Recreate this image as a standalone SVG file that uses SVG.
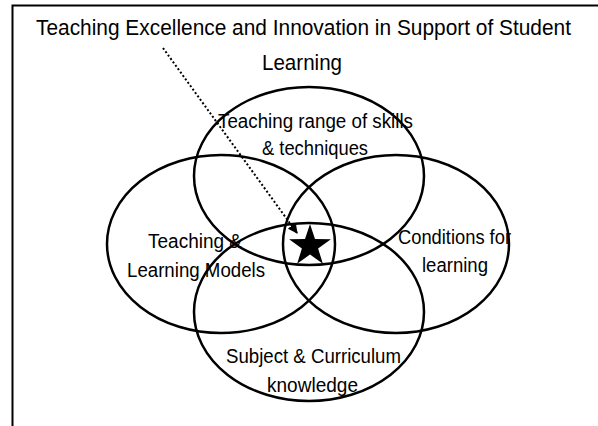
<svg xmlns="http://www.w3.org/2000/svg" width="598" height="426" viewBox="0 0 598 426">
  <style>
    .frame { fill: none; stroke: #000; stroke-width: 2; }
    .set { fill: none; stroke: #000; stroke-width: 2.5; }
    .label { font-family: "Liberation Sans", Arial, sans-serif; font-size: 20px; fill: #000; }
    .title { font-family: "Liberation Sans", Arial, sans-serif; font-size: 20.8px; fill: #000; }
    .pointer { fill: none; stroke: #000; stroke-width: 2; stroke-dasharray: 2 2.2; }
  </style>
  <defs>
    <marker id="head" viewBox="0 0 10 10" refX="9" refY="5" markerWidth="5" markerHeight="5" orient="auto" markerUnits="strokeWidth">
      <path d="M0,0 L10,5 L0,10 Z" fill="#000"/>
    </marker>
  </defs>

  <rect width="598" height="426" fill="#fff"/>

  <!-- open frame: top and left edges only -->
  <path class="frame" d="M12.5,426 V5.5 H598"/>

  <!-- title set in a slightly tall, narrow face -->
  <g id="title">
    <text class="title" transform="translate(36,35) scale(1,1.1)" textLength="535" lengthAdjust="spacingAndGlyphs">Teaching Excellence and Innovation in Support of Student</text>
    <text class="title" transform="translate(262,69.5) scale(1,1.1)" textLength="80" lengthAdjust="spacingAndGlyphs">Learning</text>
  </g>

  <g id="skills">
    <ellipse class="set" cx="309" cy="176" rx="115" ry="89"/>
    <text class="label" x="218" y="127.5" textLength="195" lengthAdjust="spacingAndGlyphs">Teaching range of skills</text>
    <text class="label" x="262" y="155" textLength="106" lengthAdjust="spacingAndGlyphs">&amp; techniques</text>
  </g>

  <g id="models">
    <ellipse class="set" cx="221" cy="244" rx="114" ry="89"/>
    <text class="label" x="148" y="248" textLength="94" lengthAdjust="spacingAndGlyphs">Teaching &amp;</text>
    <text class="label" x="127" y="276.5" textLength="138" lengthAdjust="spacingAndGlyphs">Learning Models</text>
  </g>

  <g id="conditions">
    <ellipse class="set" cx="396" cy="244" rx="113" ry="89"/>
    <text class="label" x="398" y="244" textLength="113" lengthAdjust="spacingAndGlyphs">Conditions for</text>
    <text class="label" x="422" y="271.5" textLength="66" lengthAdjust="spacingAndGlyphs">learning</text>
  </g>

  <g id="subject">
    <ellipse class="set" cx="309" cy="312" rx="115" ry="89"/>
    <text class="label" x="226" y="363" textLength="175" lengthAdjust="spacingAndGlyphs">Subject &amp; Curriculum</text>
    <text class="label" x="267" y="391.5" textLength="91" lengthAdjust="spacingAndGlyphs">knowledge</text>
  </g>

  <g id="excellence">
    <polygon fill="#000" points="310,224 315,239.1 330.9,239.2 318.1,248.6 322.9,263.8 310,254.5 297.1,263.8 301.9,248.6 289.1,239.2 305,239.1"/>
  </g>

  <g id="connectors">
    <line class="pointer" x1="163" y1="48" x2="297" y2="233" marker-end="url(#head)"/>
  </g>
</svg>
